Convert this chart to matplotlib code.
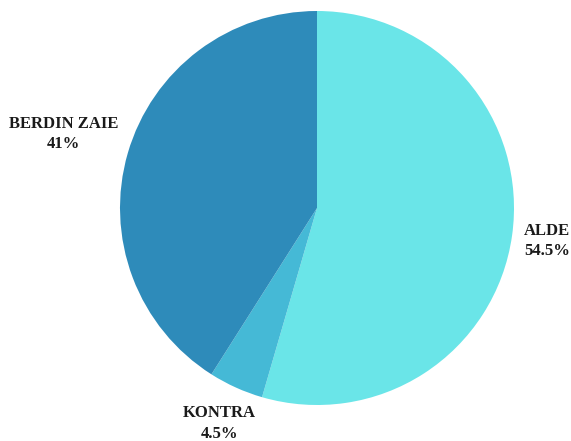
import matplotlib
matplotlib.use("Agg")
import matplotlib.pyplot as plt
import numpy as np

labels = ["ALDE", "KONTRA", "BERDIN ZAIE"]
values = [54.5, 4.5, 41]
pct_text = ["54.5%", "4.5%", "41%"]
colors = ["#6ae5e8", "#45b9d6", "#2e8bba"]
label_dist = [1.18, 1.2, 1.34]

W, H = 571, 441
fig = plt.figure(figsize=(W / 100, H / 100), dpi=100)
cx, cy, r = 317, 208, 197
ax = fig.add_axes([(cx - r) / W, (H - cy - r) / H, 2 * r / W, 2 * r / H])
wedges, _ = ax.pie(values, colors=colors, startangle=90, counterclock=False,
                   radius=1, wedgeprops=dict(linewidth=0))
ax.set_xlim(-1, 1)
ax.set_ylim(-1, 1)
ax.axis("off")

for w, name, pct, d in zip(wedges, labels, pct_text, label_dist):
    ang = np.deg2rad((w.theta1 + w.theta2) / 2)
    x, y = d * np.cos(ang), d * np.sin(ang)
    ax.text(x, y, name + "\n" + pct, ha="center", va="center",
            fontsize=12, fontweight="bold", family="Liberation Serif",
            color="#1a1a1a", linespacing=1.35, clip_on=False)

fig.savefig("out.png", dpi=100)
